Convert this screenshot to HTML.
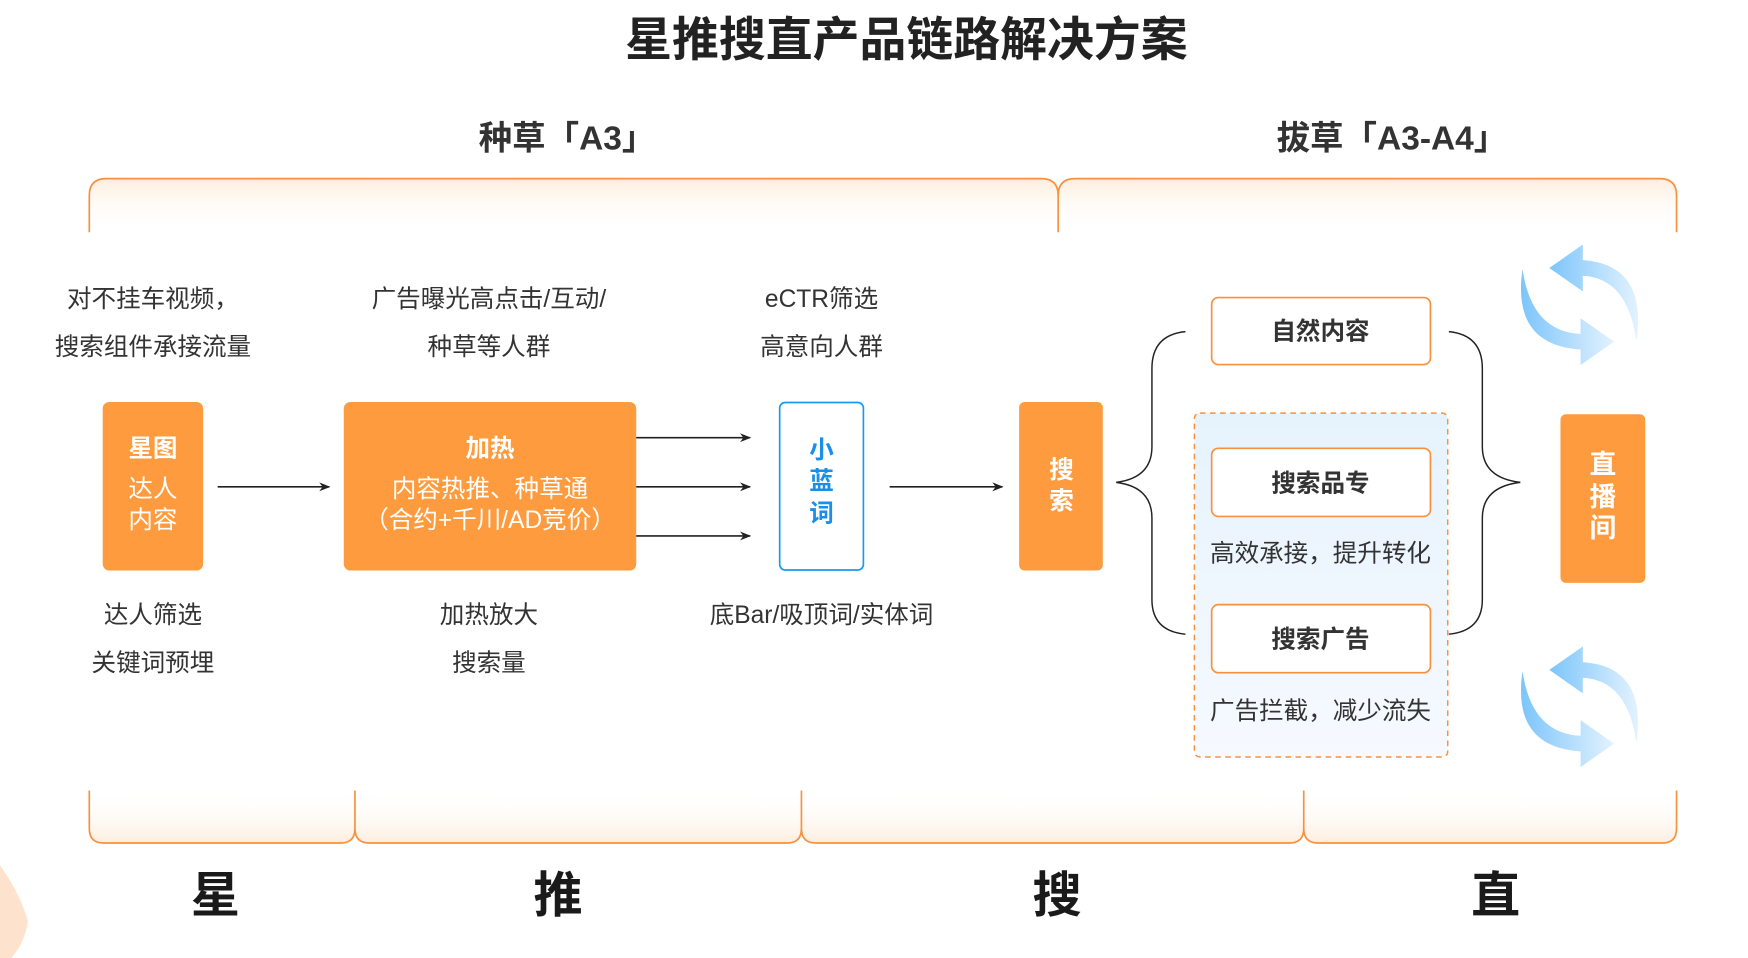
<!DOCTYPE html>
<html><head><meta charset="utf-8"><style>
html,body{margin:0;padding:0;background:#fff;}
svg{display:block;}
text{font-family:"Liberation Sans","Noto Sans CJK SC",sans-serif;}
</style></head><body>
<svg width="1748" height="958" viewBox="0 0 1566 858" preserveAspectRatio="none" xmlns="http://www.w3.org/2000/svg">
<defs>
<linearGradient id="gt" x1="0" y1="0" x2="0" y2="1"><stop offset="0" stop-color="#fdeede"/><stop offset="1" stop-color="#fff" stop-opacity="0"/></linearGradient>
<linearGradient id="gb" x1="0" y1="1" x2="0" y2="0"><stop offset="0" stop-color="#fdeede"/><stop offset="1" stop-color="#fff" stop-opacity="0"/></linearGradient>
<linearGradient id="gd" x1="0" y1="0" x2="0" y2="1"><stop offset="0" stop-color="#e6f3fd"/><stop offset="1" stop-color="#f6f9ff"/></linearGradient>
<linearGradient id="ga" x1="0" y1="0" x2="1" y2="0"><stop offset="0" stop-color="#7cc5fb"/><stop offset="1" stop-color="#e3f2fe"/></linearGradient>
<linearGradient id="ga2" x1="1" y1="0" x2="0" y2="0"><stop offset="0" stop-color="#e3f2fe"/><stop offset="1" stop-color="#7cc5fb"/></linearGradient>
<marker id="ar" markerWidth="10" markerHeight="10" refX="9" refY="5" orient="auto" markerUnits="userSpaceOnUse"><path d="M0,1 L10,5 L0,9 L3,5 Z" fill="#222"/></marker>
<g id="cyc">
<path d="M50,32 Q60,-36 2,-40 L2,-54 L-28,-33 L2,-12 L2,-26 Q42,-24 50,32 Z" fill="url(#ga)"/>
<path d="M-52,-32 Q-62,36 0,40 L0,54 L30,33 L0,12 L0,26 Q-44,24 -52,-32 Z" fill="url(#ga)"/>
</g>
</defs>

<text x="812" y="50" font-size="42" font-weight="bold" fill="#222" text-anchor="middle">星推搜直产品链路解决方案</text>
<text x="508" y="134" font-size="30" font-weight="bold" fill="#333" text-anchor="middle">种草「A3」</text>
<text x="1247" y="134" font-size="30" font-weight="bold" fill="#333" text-anchor="middle">拔草「A3-A4」</text>

<path d="M80,208 L80,175 Q80,160 95,160 L933,160 Q948,160 948,175 L948,208 Z" fill="url(#gt)"/>
<path d="M948,208 L948,175 Q948,160 963,160 L1487,160 Q1502,160 1502,175 L1502,208 Z" fill="url(#gt)"/>
<path d="M80,208 L80,175 Q80,160 95,160 L933,160 Q948,160 948,175 L948,208 M948,175 Q948,160 963,160 L1487,160 Q1502,160 1502,175 L1502,208" fill="none" stroke="#f7913d" stroke-width="1.5"/>

<path d="M80,708 L80,742 Q80,755 93,755 L305,755 Q318,755 318,742 L318,708 Z" fill="url(#gb)"/>
<path d="M318,708 L318,742 Q318,755 331,755 L705,755 Q718,755 718,742 L718,708 Z" fill="url(#gb)"/>
<path d="M718,708 L718,742 Q718,755 731,755 L1155,755 Q1168,755 1168,742 L1168,708 Z" fill="url(#gb)"/>
<path d="M1168,708 L1168,742 Q1168,755 1181,755 L1489,755 Q1502,755 1502,742 L1502,708 Z" fill="url(#gb)"/>
<path d="M80,708 L80,742 Q80,755 93,755 L305,755 Q318,755 318,742 L318,708 M318,742 Q318,755 331,755 L705,755 Q718,755 718,742 L718,708 M718,742 Q718,755 731,755 L1155,755 Q1168,755 1168,742 L1168,708 M1168,742 Q1168,755 1181,755 L1489,755 Q1502,755 1502,742 L1502,708" fill="none" stroke="#f7913d" stroke-width="1.5"/>

<g font-size="44" font-weight="bold" fill="#1a1a1a" text-anchor="middle">
<text x="193" y="817">星</text><text x="500" y="817">推</text><text x="947" y="817">搜</text><text x="1340" y="817">直</text>
</g>
<path d="M0,775 Q18,800 25,825 Q22,845 10,858 L0,858 Z" fill="#fde3cd"/>

<g font-size="22" fill="#333" text-anchor="middle">
<text x="137" y="275">对不挂车视频，</text>
<text x="137" y="318">搜索组件承接流量</text>
<text x="438" y="275">广告曝光高点击/互动/</text>
<text x="438" y="318">种草等人群</text>
<text x="736" y="275">eCTR筛选</text>
<text x="736" y="318">高意向人群</text>
<text x="137" y="558">达人筛选</text>
<text x="137" y="601">关键词预埋</text>
<text x="438" y="558">加热放大</text>
<text x="438" y="601">搜索量</text>
<text x="736" y="558">底Bar/吸顶词/实体词</text>
</g>

<rect x="92" y="360" width="90" height="151" rx="6" fill="#fe9b3e"/>
<g fill="#fff" text-anchor="middle" font-size="22">
<text x="137" y="409" font-weight="bold">星图</text>
<text x="137" y="445">达人</text>
<text x="137" y="473">内容</text>
</g>
<rect x="308" y="360" width="262" height="151" rx="6" fill="#fe9b3e"/>
<g fill="#fff" text-anchor="middle" font-size="22">
<text x="439" y="409" font-weight="bold">加热</text>
<text x="439" y="445">内容热推、种草通</text>
<text x="439" y="473">（合约+千川/AD竞价）</text>
</g>
<rect x="698.5" y="360.5" width="75" height="150" rx="5" fill="#fff" stroke="#1a9af0" stroke-width="1.5"/>
<g fill="#1a8fe8" text-anchor="middle" font-size="22" font-weight="bold">
<text x="736" y="410">小</text><text x="736" y="438">蓝</text><text x="736" y="467">词</text>
</g>
<rect x="913" y="360" width="75" height="151" rx="5" fill="#fe9b3e"/>
<g fill="#fff" text-anchor="middle" font-size="22" font-weight="bold">
<text x="951" y="428">搜</text><text x="951" y="456">索</text>
</g>
<rect x="1398" y="371" width="76" height="151" rx="5" fill="#fe9b3e"/>
<g fill="#fff" text-anchor="middle" font-size="24" font-weight="bold">
<text x="1436" y="424">直</text><text x="1436" y="453">播</text><text x="1436" y="481">间</text>
</g>

<g stroke="#222" stroke-width="1.5" marker-end="url(#ar)">
<line x1="195" y1="436" x2="295" y2="436"/>
<line x1="570" y1="392" x2="672" y2="392"/>
<line x1="570" y1="436" x2="672" y2="436"/>
<line x1="570" y1="480" x2="672" y2="480"/>
<line x1="797" y1="436" x2="898" y2="436"/>
</g>

<path d="M1062,297 Q1032,300 1032,330 L1032,400 Q1032,428 1000,432 Q1032,436 1032,464 L1032,537 Q1032,565 1062,568" fill="none" stroke="#222" stroke-width="1.3"/>
<path d="M1298,297 Q1328,300 1328,330 L1328,400 Q1328,428 1362,432 Q1328,436 1328,464 L1328,537 Q1328,565 1298,568" fill="none" stroke="#222" stroke-width="1.3"/>

<rect x="1070" y="370" width="227" height="308" rx="5" fill="url(#gd)" stroke="#f7913d" stroke-width="1.3" stroke-dasharray="5,4"/>
<g fill="#fff" stroke="#f7913d" stroke-width="1.5">
<rect x="1085.5" y="266.5" width="196" height="60" rx="6"/>
<rect x="1085.5" y="401.5" width="196" height="61" rx="6"/>
<rect x="1085.5" y="541.5" width="196" height="61" rx="6"/>
</g>
<g fill="#333" text-anchor="middle" font-size="22" font-weight="bold">
<text x="1183" y="304">自然内容</text>
<text x="1183" y="440">搜索品专</text>
<text x="1183" y="580">搜索广告</text>
</g>
<g fill="#333" text-anchor="middle" font-size="22">
<text x="1183" y="503">高效承接，提升转化</text>
<text x="1183" y="644">广告拦截，减少流失</text>
</g>

<use href="#cyc" transform="translate(1416,273)"/>
<use href="#cyc" transform="translate(1416,633)"/>
</svg>
</body></html>
